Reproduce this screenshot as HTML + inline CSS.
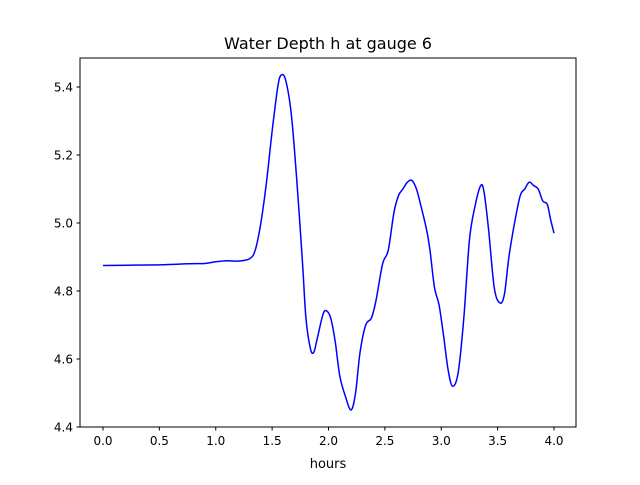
<!DOCTYPE html>
<html><head><meta charset="utf-8"><style>
body{margin:0;background:#fff}
svg{font-family:"DejaVu Sans","Liberation Sans",sans-serif}
</style></head><body>
<svg id="chart" width="640" height="480" xmlns="http://www.w3.org/2000/svg">
<rect width="640" height="480" fill="#fff"/>
<text x="328" y="49" text-anchor="middle" font-size="16">Water Depth h at gauge 6</text>
<g id="axes"></g>
<text x="328" y="468" text-anchor="middle" font-size="13">hours</text>
</svg>
<script>
const hours=[0,0.5,0.75,0.9,1.0,1.1,1.2,1.3,1.35,1.4,1.45,1.5,1.55,1.58,1.62,1.67,1.72,1.77,1.8,1.84,1.87,1.9,1.95,1.98,2.02,2.06,2.1,2.15,2.2,2.24,2.28,2.33,2.38,2.42,2.48,2.53,2.58,2.62,2.66,2.7,2.74,2.78,2.82,2.87,2.9,2.94,2.98,3.02,3.06,3.1,3.15,3.2,3.25,3.3,3.35,3.38,3.42,3.47,3.52,3.56,3.6,3.65,3.7,3.74,3.78,3.82,3.86,3.9,3.94,3.97,4.0];
const depth=[4.875,4.877,4.880,4.881,4.886,4.889,4.888,4.895,4.92,5.0,5.12,5.27,5.40,5.435,5.42,5.32,5.12,4.88,4.72,4.63,4.62,4.66,4.73,4.742,4.72,4.65,4.55,4.49,4.45,4.50,4.62,4.70,4.72,4.77,4.88,4.92,5.03,5.08,5.10,5.12,5.125,5.10,5.05,4.98,4.92,4.81,4.76,4.67,4.57,4.52,4.56,4.72,4.95,5.05,5.11,5.09,4.98,4.81,4.765,4.79,4.90,5.00,5.08,5.10,5.12,5.11,5.10,5.065,5.055,5.01,4.97];
const xTicks=[0,0.5,1,1.5,2,2.5,3,3.5,4];
const xTickLabels=["0.0","0.5","1.0","1.5","2.0","2.5","3.0","3.5","4.0"];
const yTicks=[4.4,4.6,4.8,5.0,5.2,5.4];
const yTickLabels=["4.4","4.6","4.8","5.0","5.2","5.4"];
const L=80,R=576,T=58,B=427;
const xs=v=>103+v*112.75;
const ys=v=>427-(v-4.4)*340;
const NS="http://www.w3.org/2000/svg";
const g=document.getElementById('axes');
function mk(t,a){const e=document.createElementNS(NS,t);for(const k in a)e.setAttribute(k,a[k]);g.appendChild(e);return e;}
// line
let pts=hours.map((h,i)=>[xs(h),ys(depth[i])]);
let d="M"+pts[0][0]+","+pts[0][1];
for(let i=0;i<pts.length-1;i++){const p0=pts[Math.max(0,i-1)],p1=pts[i],p2=pts[i+1],p3=pts[Math.min(pts.length-1,i+2)];
d+=` C${p1[0]+(p2[0]-p0[0])/6},${p1[1]+(p2[1]-p0[1])/6} ${p2[0]-(p3[0]-p1[0])/6},${p2[1]-(p3[1]-p1[1])/6} ${p2[0]},${p2[1]}`;}
const line=mk('path',{d:d,fill:'none',stroke:'#0000ff','stroke-width':1.5});


const frame=mk('rect',{x:L,y:T,width:R-L,height:B-T,fill:'none',stroke:'#000','stroke-width':1});


xTicks.forEach((v,i)=>{const x=xs(v);
const t=mk('line',{x1:x,x2:x,y1:B,y2:B+3.5,stroke:'#000'});


const l=mk('text',{x:x,y:B+18,'text-anchor':'middle','font-size':12});l.textContent=xTickLabels[i];

});
yTicks.forEach((v,i)=>{const y=ys(v);
const t=mk('line',{x1:L-3.5,x2:L,y1:y,y2:y,stroke:'#000'});


const l=mk('text',{x:L-7,y:y+4.5,'text-anchor':'end','font-size':12});l.textContent=yTickLabels[i];

});
</script>
</body></html>
